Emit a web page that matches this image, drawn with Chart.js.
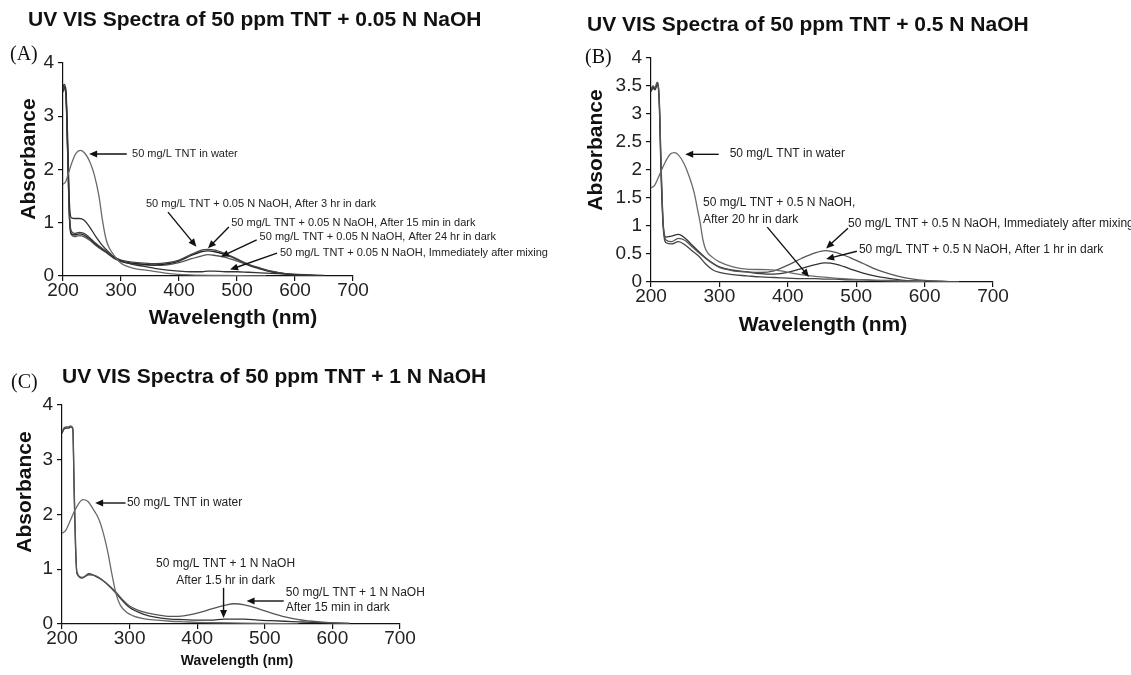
<!DOCTYPE html>
<html>
<head>
<meta charset="utf-8">
<script src="https://cdn.jsdelivr.net/npm/chart.js@4.4.1/dist/chart.umd.min.js"></script>
<style>
  html, body { margin: 0; padding: 0; background: #fff; }
  #wrap { position: relative; width: 1131px; height: 675px; overflow: hidden; }
  canvas { position: absolute; }
</style>
</head>
<body>
<div id="wrap">
  <canvas id="chartA" width="560" height="345" style="left:0;top:0"></canvas>
  <canvas id="chartB" width="571" height="345" style="left:560px;top:0"></canvas>
  <canvas id="chartC" width="560" height="330" style="left:0;top:345px"></canvas>
</div>
<script>
// UV-VIS spectra of TNT in NaOH, three panels

// ---- panel A : 0.05 N NaOH ----
const aWaterNm  = [200, 205, 210, 216, 222, 230, 238, 246, 254, 262, 268, 274, 280, 290, 300, 320, 350, 380, 420, 480, 550];
const aWaterAbs = [1.72, 1.78, 1.95, 2.15, 2.3, 2.36, 2.3, 2.15, 1.9, 1.5, 1.05, 0.7, 0.52, 0.36, 0.24, 0.15, 0.1, 0.05, 0.02, 0.01, 0];
const aNaohNm   = [200, 202, 205, 208, 211, 214, 220, 228, 236, 246, 256, 266, 276, 288, 300, 320, 340, 360, 380, 400, 420, 440, 450, 460, 480, 500, 520, 540, 560, 580, 600, 625, 650];
const aImmAbs   = [3.55, 3.6, 3.5, 2.6, 1.4, 1.1, 1.08, 1.08, 1.05, 0.92, 0.75, 0.6, 0.48, 0.36, 0.29, 0.22, 0.18, 0.14, 0.11, 0.09, 0.08, 0.08, 0.09, 0.09, 0.08, 0.08, 0.07, 0.06, 0.05, 0.04, 0.03, 0.02, 0.01];
const a3hrAbs   = [3.5, 3.56, 3.45, 2.4, 1.2, 0.85, 0.8, 0.82, 0.8, 0.72, 0.62, 0.53, 0.45, 0.35, 0.3, 0.26, 0.24, 0.23, 0.25, 0.3, 0.4, 0.49, 0.5, 0.49, 0.42, 0.32, 0.22, 0.15, 0.09, 0.05, 0.03, 0.01, 0];
const a15minAbs = [3.48, 3.55, 3.42, 2.35, 1.15, 0.8, 0.77, 0.79, 0.77, 0.7, 0.6, 0.52, 0.44, 0.34, 0.28, 0.24, 0.22, 0.21, 0.23, 0.28, 0.38, 0.46, 0.47, 0.46, 0.4, 0.31, 0.21, 0.14, 0.08, 0.05, 0.02, 0.01, 0];
const a24hrAbs  = [3.45, 3.52, 3.4, 2.3, 1.1, 0.78, 0.74, 0.76, 0.74, 0.67, 0.58, 0.5, 0.43, 0.33, 0.27, 0.23, 0.21, 0.2, 0.21, 0.25, 0.32, 0.38, 0.4, 0.39, 0.35, 0.28, 0.2, 0.13, 0.08, 0.04, 0.02, 0.01, 0];

// ---- panel B : 0.5 N NaOH ----
const bWaterNm  = [200, 205, 212, 220, 228, 234, 240, 248, 256, 263, 268, 272, 276, 280, 290, 300, 320, 340, 370, 390, 410, 440, 480, 530, 600];
const bWaterAbs = [1.68, 1.72, 1.9, 2.12, 2.28, 2.31, 2.27, 2.12, 1.88, 1.6, 1.3, 1.05, 0.75, 0.58, 0.44, 0.36, 0.27, 0.23, 0.22, 0.2, 0.15, 0.1, 0.06, 0.03, 0.01];
const bNaohNm   = [200, 203, 206, 209, 212, 215, 218, 222, 230, 240, 250, 260, 270, 280, 290, 300, 320, 340, 360, 380, 400, 420, 440, 455, 470, 490, 510, 530, 550, 570, 600, 625, 650];
const bImmAbs   = [3.45, 3.5, 3.47, 3.57, 3.3, 2.0, 1.0, 0.75, 0.72, 0.78, 0.74, 0.63, 0.52, 0.42, 0.33, 0.26, 0.2, 0.18, 0.17, 0.2, 0.3, 0.42, 0.52, 0.56, 0.53, 0.44, 0.33, 0.22, 0.14, 0.08, 0.03, 0.01, 0];
const b1hrAbs   = [3.43, 3.48, 3.45, 3.55, 3.25, 1.9, 1.0, 0.8, 0.82, 0.85, 0.78, 0.66, 0.54, 0.43, 0.34, 0.27, 0.21, 0.18, 0.15, 0.14, 0.17, 0.24, 0.31, 0.34, 0.32, 0.24, 0.16, 0.1, 0.06, 0.03, 0.01, 0.01, 0];
const b20hrAbs  = [3.4, 3.46, 3.43, 3.52, 3.2, 1.8, 0.95, 0.7, 0.68, 0.72, 0.66, 0.56, 0.46, 0.32, 0.22, 0.17, 0.13, 0.11, 0.09, 0.08, 0.07, 0.06, 0.06, 0.05, 0.05, 0.04, 0.04, 0.03, 0.03, 0.02, 0.02, 0.01, 0];

// ---- panel C : 1 N NaOH ----
const cWaterNm  = [200, 205, 212, 220, 231, 238, 245, 255, 262, 268, 274, 280, 286, 295, 305, 320, 340, 360, 380, 400, 450, 500, 550];
const cWaterAbs = [1.66, 1.7, 1.88, 2.1, 2.27, 2.24, 2.12, 1.9, 1.62, 1.3, 0.9, 0.55, 0.35, 0.22, 0.15, 0.1, 0.07, 0.05, 0.04, 0.03, 0.02, 0.01, 0];
const cNaohNm   = [200, 203, 207, 210, 213, 216, 218, 220, 222, 230, 240, 250, 260, 270, 280, 290, 300, 320, 340, 360, 380, 400, 420, 440, 455, 470, 490, 510, 530, 550, 570, 600, 625];
const c15minAbs = [3.5, 3.58, 3.6, 3.6, 3.62, 3.58, 2.5, 1.5, 0.92, 0.85, 0.9, 0.88, 0.8, 0.7, 0.58, 0.44, 0.33, 0.22, 0.17, 0.14, 0.15, 0.2, 0.27, 0.34, 0.37, 0.35, 0.28, 0.2, 0.13, 0.08, 0.05, 0.02, 0.01];
const c1hr5Abs  = [3.48, 3.56, 3.58, 3.58, 3.6, 3.56, 2.4, 1.4, 0.95, 0.84, 0.92, 0.87, 0.8, 0.69, 0.56, 0.42, 0.3, 0.18, 0.12, 0.09, 0.08, 0.07, 0.07, 0.09, 0.09, 0.09, 0.07, 0.06, 0.05, 0.04, 0.03, 0.02, 0.01];

// axis ticks
const xTicks  = [200, 300, 400, 500, 600, 700];
const yTicksA = [0, 1, 2, 3, 4];
const yTicksB = [0, 0.5, 1, 1.5, 2, 2.5, 3, 3.5, 4];
const yTicksC = [0, 1, 2, 3, 4];

// annotations, in data units (wavelength, absorbance)
const notesA = [
  { x: 319, y: 2.29, text: '50 mg/L TNT in water' },
  { x: 343, y: 1.35, text: '50 mg/L TNT + 0.05 N NaOH, After 3 hr in dark' },
  { x: 490, y: 1.0,  text: '50 mg/L TNT + 0.05 N NaOH, After 15 min in dark' },
  { x: 539, y: 0.73, text: '50 mg/L TNT + 0.05 N NaOH, After 24 hr in dark' },
  { x: 574, y: 0.43, text: '50 mg/L TNT + 0.05 N NaOH, Immediately after mixing' }
];
const arrowsA = [[310, 2.29, 245, 2.29], [381, 1.2, 430, 0.55], [486, 0.92, 450, 0.52], [534, 0.68, 472, 0.36], [569, 0.43, 488, 0.12]];
const notesB = [
  { x: 315, y: 2.3,  text: '50 mg/L TNT in water' },
  { x: 276, y: 1.41, text: '50 mg/L TNT + 0.5 N NaOH,' },
  { x: 276, y: 1.12, text: 'After 20 hr in dark' },
  { x: 488, y: 1.04, text: '50 mg/L TNT + 0.5 N NaOH, Immediately after mixing' },
  { x: 504, y: 0.57, text: '50 mg/L TNT + 0.5 N NaOH, After 1 hr in dark' }
];
const arrowsB = [[299, 2.28, 250, 2.28], [370, 0.98, 431, 0.09], [488, 0.96, 456, 0.6], [501, 0.55, 456, 0.41]];
const notesC = [
  { x: 296, y: 2.21, text: '50 mg/L TNT in water' },
  { x: 442, y: 1.1,  text: '50 mg/L TNT + 1 N NaOH', align: 'center' },
  { x: 442, y: 0.8,  text: 'After 1.5 hr in dark', align: 'center' },
  { x: 531, y: 0.58, text: '50 mg/L TNT + 1 N NaOH' },
  { x: 531, y: 0.29, text: 'After 15 min in dark' }
];
const arrowsC = [[294, 2.21, 249, 2.21], [439, 0.66, 439, 0.11], [528, 0.42, 473, 0.42]];

const SANS = '"Liberation Sans", Arial, sans-serif';
const SERIF = '"Liberation Serif", "Times New Roman", serif';
Chart.defaults.font.family = SANS;

function pts(xs, ys) {
  return xs.map((x, i) => ({ x: x, y: ys[i] }));
}

function arrow(ctx, x1, y1, x2, y2) {
  const a = Math.atan2(y2 - y1, x2 - x1), L = 8, W = 3.5;
  ctx.beginPath();
  ctx.moveTo(x1, y1);
  ctx.lineTo(x2 - L * 0.7 * Math.cos(a), y2 - L * 0.7 * Math.sin(a));
  ctx.stroke();
  ctx.beginPath();
  ctx.moveTo(x2, y2);
  ctx.lineTo(x2 - L * Math.cos(a) + W * Math.sin(a), y2 - L * Math.sin(a) - W * Math.cos(a));
  ctx.lineTo(x2 - L * Math.cos(a) - W * Math.sin(a), y2 - L * Math.sin(a) + W * Math.cos(a));
  ctx.closePath();
  ctx.fill();
}

// draws headings, axis titles and the arrow labels
const decor = {
  id: 'decor',
  afterDraw(chart, args, o) {
    const ctx = chart.ctx, xs = chart.scales.x, ys = chart.scales.y;
    ctx.save();
    ctx.fillStyle = '#111';
    ctx.strokeStyle = '#111';
    ctx.textBaseline = 'middle';

    ctx.font = 'bold 21px ' + SANS;
    ctx.textAlign = 'left';
    ctx.fillText(o.title, o.titleX, o.titleY);

    ctx.font = '20px ' + SERIF;
    ctx.fillText(o.tag, o.tagX, o.tagY);

    ctx.font = 'bold ' + o.xTitleSize + 'px ' + SANS;
    ctx.textAlign = 'center';
    ctx.fillText('Wavelength (nm)', o.xTitleX, o.xTitleY);

    ctx.save();
    ctx.translate(o.yTitleX, o.yTitleY);
    ctx.rotate(-Math.PI / 2);
    ctx.font = 'bold 21px ' + SANS;
    ctx.fillText('Absorbance', 0, 0);
    ctx.restore();

    ctx.font = o.noteSize + 'px ' + SANS;
    ctx.fillStyle = '#222';
    o.notes.forEach(n => {
      ctx.textAlign = n.align || 'left';
      ctx.fillText(n.text, xs.getPixelForValue(n.x), ys.getPixelForValue(n.y));
    });

    ctx.lineWidth = 1.4;
    ctx.fillStyle = '#111';
    o.arrows.forEach(a => {
      arrow(ctx, xs.getPixelForValue(a[0]), ys.getPixelForValue(a[1]),
                 xs.getPixelForValue(a[2]), ys.getPixelForValue(a[3]));
    });
    ctx.restore();
  }
};

function makeChart(id, sets, yTicks, box, deco) {
  const axisLine = { display: true, color: '#111', width: 1.2 };
  const gridTicks = { drawOnChartArea: false, drawTicks: true, tickLength: 5, color: '#111', lineWidth: 1.2 };
  return new Chart(document.getElementById(id), {
    type: 'line',
    data: {
      datasets: sets.map(s => ({
        data: pts(s.nm, s.abs),
        borderColor: s.color,
        borderWidth: 1.3,
        pointRadius: 0,
        fill: false,
        cubicInterpolationMode: 'monotone'
      }))
    },
    options: {
      responsive: false,
      animation: false,
      devicePixelRatio: 1,
      layout: { padding: { left: 0, top: box.top, right: box.right, bottom: box.bottom } },
      plugins: { legend: { display: false }, tooltip: { enabled: false }, decor: deco },
      scales: {
        x: {
          type: 'linear', min: 200, max: 700,
          afterBuildTicks: sc => { sc.ticks = xTicks.map(v => ({ value: v })); },
          afterFit: sc => { sc.height = 30; },
          border: axisLine, grid: gridTicks,
          ticks: { color: '#222', font: { size: box.tickSize }, padding: -2, autoSkip: false, maxRotation: 0,
                   callback: v => String(v) }
        },
        y: {
          type: 'linear', min: 0, max: 4,
          afterBuildTicks: sc => { sc.ticks = yTicks.map(v => ({ value: v })); },
          afterFit: sc => { sc.width = box.left; },
          border: axisLine, grid: gridTicks,
          ticks: { color: '#222', font: { size: box.tickSize }, padding: 4, autoSkip: false,
                   callback: v => String(v) }
        }
      }
    },
    plugins: [decor]
  });
}

makeChart('chartA', [
  { nm: aWaterNm, abs: aWaterAbs, color: '#6a6a6a' },
  { nm: aNaohNm, abs: aImmAbs, color: '#333' },
  { nm: aNaohNm, abs: a3hrAbs, color: '#444' },
  { nm: aNaohNm, abs: a15minAbs, color: '#222' },
  { nm: aNaohNm, abs: a24hrAbs, color: '#555' }
], yTicksA, { left: 63, top: 63, right: 207, bottom: 39, tickSize: 19 }, {
  title: 'UV VIS Spectra of 50 ppm TNT + 0.05 N NaOH', titleX: 28, titleY: 20,
  tag: '(A)', tagX: 10, tagY: 55,
  yTitleX: 29, yTitleY: 159,
  xTitleX: 233, xTitleY: 318, xTitleSize: 21,
  noteSize: 11, notes: notesA, arrows: arrowsA
});

makeChart('chartB', [
  { nm: bWaterNm, abs: bWaterAbs, color: '#6a6a6a' },
  { nm: bNaohNm, abs: bImmAbs, color: '#555' },
  { nm: bNaohNm, abs: b1hrAbs, color: '#333' },
  { nm: bNaohNm, abs: b20hrAbs, color: '#444' }
], yTicksB, { left: 91, top: 58, right: 138, bottom: 33, tickSize: 19 }, {
  title: 'UV VIS Spectra of 50 ppm TNT + 0.5 N NaOH', titleX: 27, titleY: 25,
  tag: '(B)', tagX: 25, tagY: 58,
  yTitleX: 36, yTitleY: 150,
  xTitleX: 263, xTitleY: 325, xTitleSize: 21,
  noteSize: 12, notes: notesB, arrows: arrowsB
});

makeChart('chartC', [
  { nm: cWaterNm, abs: cWaterAbs, color: '#6a6a6a' },
  { nm: cNaohNm, abs: c15minAbs, color: '#555' },
  { nm: cNaohNm, abs: c1hr5Abs, color: '#333' }
], yTicksC, { left: 62, top: 60, right: 160, bottom: 21, tickSize: 19 }, {
  title: 'UV VIS Spectra of 50 ppm TNT + 1 N NaOH', titleX: 62, titleY: 32,
  tag: '(C)', tagX: 11, tagY: 38,
  yTitleX: 25, yTitleY: 147,
  xTitleX: 237, xTitleY: 316, xTitleSize: 14,
  noteSize: 12, notes: notesC, arrows: arrowsC
});
</script>
</body>
</html>
